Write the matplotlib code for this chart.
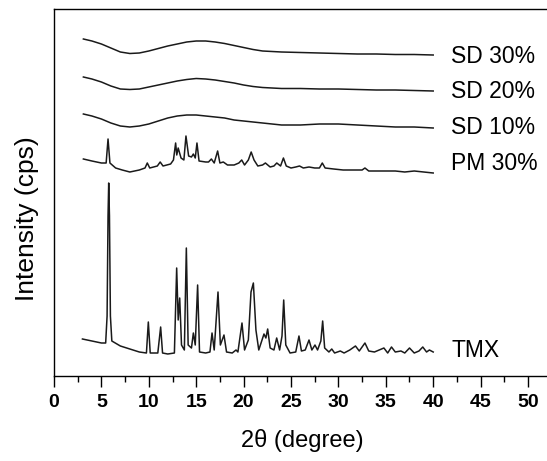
import matplotlib
matplotlib.use('Agg')
import matplotlib.pyplot as plt
from matplotlib.ticker import MultipleLocator

plt.rcParams['font.family'] = ['Liberation Sans', 'DejaVu Sans']

# XRD patterns (2theta, intensity in a.u., already stacked)
tmx = [(3.0, 37), (4.0, 35), (5.0, 33), (5.45, 33), (5.6, 60), (5.7, 160), (5.77, 193),
       (5.85, 160), (5.95, 60), (6.1, 35), (7.0, 30), (8.0, 27), (9.0, 24), (9.75, 23),
       (9.95, 54), (10.15, 23), (10.95, 23), (11.25, 49), (11.45, 23), (12.0, 22),
       (12.7, 23), (12.94, 108), (13.1, 56), (13.26, 78), (13.45, 31), (13.75, 26),
       (13.96, 128), (14.15, 31), (14.5, 28), (14.7, 43), (14.9, 31), (15.15, 91),
       (15.35, 24), (16.0, 23), (16.45, 24), (16.67, 43), (16.9, 26), (17.3, 84),
       (17.55, 31), (17.93, 41), (18.2, 24), (18.8, 23), (19.2, 26), (19.4, 24),
       (19.83, 53), (20.1, 26), (20.5, 36), (20.78, 84), (21.03, 93), (21.3, 46),
       (21.6, 26), (22.15, 42), (22.35, 38), (22.54, 47), (22.8, 28), (23.2, 26),
       (23.49, 38), (23.8, 26), (24.05, 40), (24.23, 76), (24.45, 31), (24.9, 23),
       (25.5, 24), (25.84, 40), (26.1, 25), (26.5, 26), (26.9, 36), (27.2, 26),
       (27.53, 31), (27.8, 26), (28.15, 35), (28.34, 55), (28.55, 28), (29.0, 24),
       (29.3, 27), (29.6, 23), (30.2, 25), (30.6, 23), (31.2, 26), (31.8, 30),
       (32.2, 25), (32.8, 33), (33.2, 25), (33.8, 24), (34.3, 26), (34.8, 28),
       (35.2, 23), (35.6, 29), (36.0, 24), (36.6, 25), (37.0, 23), (37.5, 28),
       (38.0, 23), (38.5, 25), (38.9, 29), (39.3, 24), (39.6, 26), (40.0, 24)]

pm30 = [(3.1, 217), (4.0, 215), (5.0, 213), (5.5, 213), (5.7, 237), (5.9, 213),
        (6.5, 208), (7.2, 206), (8.0, 204), (9.0, 206), (9.6, 208), (9.84, 213),
        (10.1, 208), (10.9, 210), (11.2, 214), (11.5, 210), (12.3, 212), (12.6, 216),
        (12.83, 233), (12.95, 221), (13.1, 228), (13.4, 218), (13.7, 216), (13.92, 240),
        (14.2, 220), (14.5, 219), (14.7, 222), (14.9, 218), (15.08, 233), (15.3, 215),
        (16.0, 214), (16.3, 214), (16.6, 217), (16.9, 213), (17.26, 225), (17.5, 213),
        (17.86, 214), (18.3, 211), (19.0, 211), (19.5, 213), (19.8, 216), (20.1, 211),
        (20.5, 216), (20.8, 224), (21.1, 216), (21.5, 210), (22.0, 211), (22.3, 213),
        (22.8, 209), (23.2, 210), (23.5, 213), (23.9, 210), (24.2, 218), (24.5, 210),
        (25.0, 208), (25.5, 209), (25.9, 210), (26.3, 208), (26.9, 209), (27.5, 208),
        (28.0, 208), (28.3, 213), (28.6, 208), (29.5, 207), (30.5, 206), (31.5, 206),
        (32.5, 206), (32.8, 208), (33.2, 205), (34.5, 205), (36.0, 205), (37.0, 204),
        (38.0, 205), (39.0, 204), (40.0, 203)]

sd10 = [(3.1, 262), (4, 260), (5, 257), (6, 253), (7, 250), (8, 249), (9, 250),
        (10, 252), (11, 255), (12, 258), (13, 260), (14, 261), (15, 261), (16, 260),
        (17, 259), (18, 258), (19, 256), (20, 255), (21, 254), (22, 253), (23, 252),
        (24, 251), (26, 251), (28, 252), (30, 252), (32, 251), (34, 250), (36, 249),
        (38, 249), (40, 248)]

sd20 = [(3.1, 299), (4, 297), (5, 294), (6, 290), (7, 287), (8, 286.5), (9, 287),
        (10, 289), (11, 291), (12, 293), (13, 295), (14, 296.5), (15, 297.5), (16, 297),
        (17, 296), (18, 294.5), (19, 293), (20, 291), (21, 289.5), (22, 288.5),
        (24, 287.5), (26, 287.5), (28, 287), (30, 287), (32, 286.5), (34, 286),
        (36, 286), (38, 285.5), (40, 285)]

sd30 = [(3.1, 337), (4, 335), (5, 332), (6, 328), (7, 324), (8, 322.5), (9, 323),
        (10, 325), (11, 327.5), (12, 330), (13, 332), (14, 334), (15, 335), (16, 335),
        (17, 334), (18, 332.5), (19, 330.5), (20, 328.5), (21, 326.5), (22, 325),
        (23, 324.5), (24, 324), (26, 323.5), (28, 323), (30, 322.5), (32, 322),
        (34, 322), (36, 321.5), (38, 321.5), (40, 321)]

names = ['TMX', 'PM 30%', 'SD 10%', 'SD 20%', 'SD 30%']
series = [tmx, pm30, sd10, sd20, sd30]
label_y = [26, 213, 249, 285, 320]

fig = plt.figure(figsize=(5.47, 4.61), dpi=100)
ax = fig.add_axes([54 / 547, 85 / 461, 521.4 / 547, 367 / 461])

for name, data, ly in zip(names, series, label_y):
    xs, ys = zip(*data)
    ax.plot(xs, ys, color='#1a1a1a', lw=1.1)
    ax.text(41.9, ly, name, fontsize=16.5, ha='left', va='center')

ax.set_xlim(0, 55)
ax.set_ylim(0, 367)
ax.xaxis.set_minor_locator(MultipleLocator(2.5))
ax.set_xticks(range(0, 55, 5))
ax.tick_params(axis='x', which='major', direction='out', length=8, width=1, labelsize=14, pad=5)
ax.tick_params(axis='x', which='minor', direction='out', length=4.5, width=1)
for lab in ax.get_xticklabels():
    lab.set_fontweight('bold')
ax.set_yticks([])
ax.spines['right'].set_visible(False)
for s in ['left', 'top', 'bottom']:
    ax.spines[s].set_linewidth(1.0)

ax.set_xlabel('2\u03b8 (degree)', fontsize=17)
ax.set_ylabel('Intensity (cps)', fontsize=19)
ax.xaxis.set_label_coords(0.476, -0.145)
ax.yaxis.set_label_coords(-0.028, 0.43)

fig.savefig('out.png', dpi=100)
